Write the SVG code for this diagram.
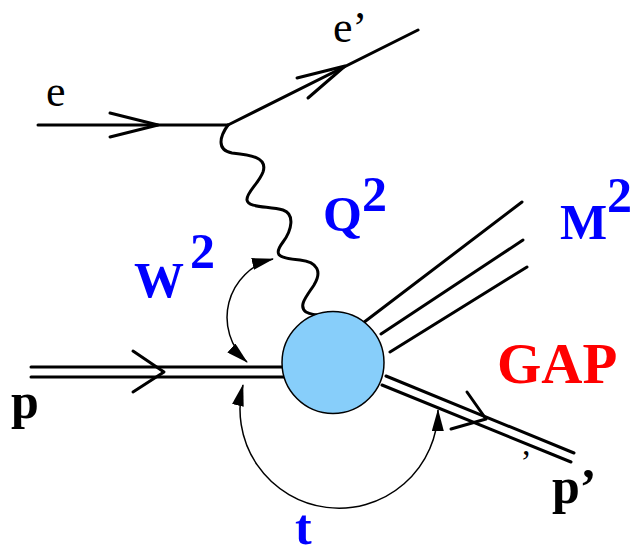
<svg xmlns="http://www.w3.org/2000/svg" width="634" height="556" viewBox="0 0 634 556">
<style>
.ln{fill:none;stroke:#000;stroke-width:3;stroke-linecap:round;stroke-linejoin:round}
.thin{fill:none;stroke:#000;stroke-width:1.5}
.lbl{font-family:"Liberation Serif","Times New Roman",serif}
.b{font-weight:bold}
.blue{fill:#0000ff}
.red{fill:#ff0000}
.blk{fill:#000}
</style>
<defs>
<marker id="ah" markerUnits="userSpaceOnUse" markerWidth="22" markerHeight="12" refX="21" refY="6" orient="auto-start-reverse" viewBox="0 0 22 12">
<path d="M0,0 L22,6 L0,12 Z" fill="#000"/>
</marker>
</defs>
<g id="connectors">
<!-- incoming electron -->
<path class="ln" d="M38,125 L228,125"/>
<path class="ln" d="M110,113 L158,125 L110,137"/>
<!-- outgoing electron -->
<path class="ln" d="M228,125 L418,30"/>
<path class="ln" d="M297,78 L345,66 L308,98"/>
<!-- photon -->
<path class="ln" d="M228,125 C220,136 216,150 232,153 C250,155 268,157 263,172 C259,183 246,193 247,200 C248,208 268,206 283,210 C295,214 292,230 283,242 C274,254 276,258 300,260 C318,262 322,272 314,285 C306,297 298,306 306,312 C312,315 318,315 322,315"/>
<!-- incoming proton -->
<path class="ln" d="M31,367 L290,367 M31,377 L290,377"/>
<path class="ln" d="M133,351 L164,372 L133,392"/>
<!-- outgoing proton -->
<path class="ln" d="M386,376 L574,453 M382,385 L571,462"/>
<path class="ln" d="M467,392 L486,419 L451,429"/>
<!-- jets -->
<path class="ln" d="M363,323 L522,202 M381,334 L523,240 M390,352 L527,267"/>
<!-- W2 arc -->
<path class="thin" d="M273,259 A60,60 0 0 0 247,362" marker-start="url(#ah)" marker-end="url(#ah)"/>
<!-- t arc -->
<path class="thin" d="M243,385 A99,99 0 1 0 438,410" marker-start="url(#ah)" marker-end="url(#ah)"/>
</g>
<g id="blob">
<circle cx="333" cy="362.5" r="51" fill="#87cefa" stroke="#000" stroke-width="1.5"/>
</g>
<g id="label-e"><text class="lbl blk" x="46" y="106" font-size="44">e</text></g>
<g id="label-eprime"><text class="lbl blk" x="333" y="42" font-size="44">e’</text></g>
<g id="label-W2"><text class="lbl b blue" x="134" y="297" font-size="50">W</text><text class="lbl b blue" x="190" y="268" font-size="50">2</text></g>
<g id="label-Q2"><text class="lbl b blue" x="323" y="231" font-size="50">Q</text><text class="lbl b blue" x="362" y="211" font-size="50">2</text></g>
<g id="label-M2"><text class="lbl b blue" x="560" y="239" font-size="50">M</text><text class="lbl b blue" x="607" y="212" font-size="50">2</text></g>
<g id="label-GAP"><text class="lbl b red" x="497" y="383" font-size="57">GAP</text></g>
<g id="label-p"><text class="lbl b blk" x="11" y="418" font-size="50">p</text></g>
<g id="label-t"><text class="lbl b blue" x="295" y="544" font-size="50">t</text></g>
<g id="label-pprime"><text class="lbl b blk" x="552" y="503" font-size="50">p’</text></g>
<g id="label-comma"><text class="lbl blk" x="522" y="455" font-size="34">,</text></g>
</svg>
